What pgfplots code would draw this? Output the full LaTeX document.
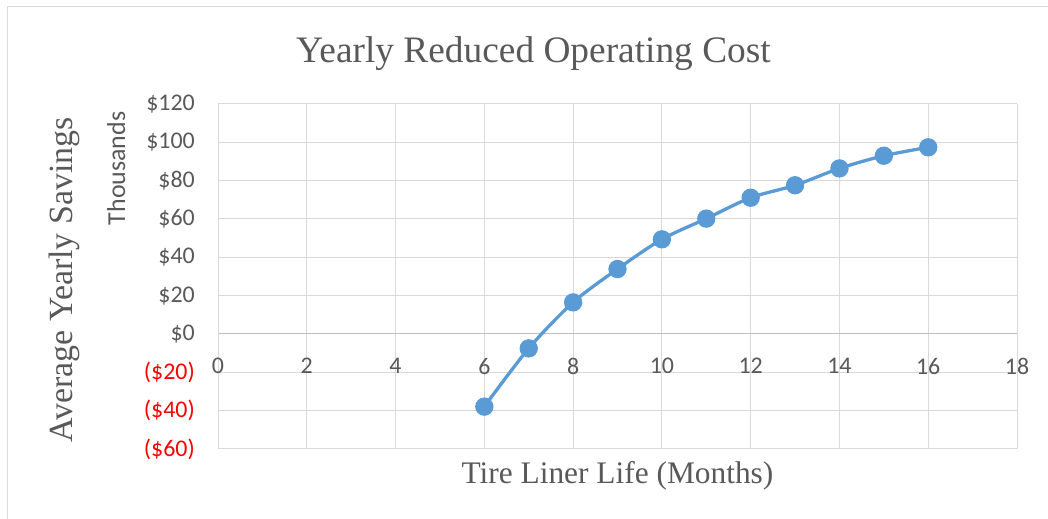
\documentclass[border=0pt]{standalone}
\usepackage{pgfplots}
\pgfplotsset{compat=1.18}
\usepackage{fontspec}
\setmainfont{Liberation Serif}
\newfontfamily\calibri{Carlito}
\definecolor{txt}{HTML}{595959}
\definecolor{grd}{HTML}{D9D9D9}
\definecolor{axl}{HTML}{BFBFBF}
\definecolor{ser}{HTML}{5B9BD5}
\begin{document}
\begin{tikzpicture}
\useasboundingbox (0,0) rectangle (1048bp,519bp);
\fill[white] (0,0) rectangle (1048bp,519bp);
\draw[grd, line width=1bp] (7bp,0) -- (7bp,512bp) -- (1048bp,512bp);
\begin{axis}[
  at={(218bp,70bp)}, anchor=south west,
  scale only axis, width=799bp, height=345bp,
  xmin=0, xmax=18, ymin=-60, ymax=120,
  xtick={0,2,...,18},
  ytick={-60,-40,-20,0,20,40,60,80,100,120},
  yticklabels={{\textcolor{red}{(\$60)}},{\textcolor{red}{(\$40)}},{\textcolor{red}{(\$20)}},\$0,\$20,\$40,\$60,\$80,\$100,\$120},
  axis x line*=middle, axis y line*=left,
  hide obscured x ticks=false,
  x axis line style={axl, line width=1bp, -},
  y axis line style={grd, line width=1bp, -},
  grid=major, grid style={grd, line width=1bp},
  major tick length=0pt,
  /pgf/number format/assume math mode=true,
  ticklabel style={font=\calibri\fontsize{24}{26}\selectfont, text=txt},
  xticklabel style={anchor=north, inner sep=0pt, yshift=-24bp},
  yticklabel style={anchor=east, inner sep=0pt, xshift=-23bp},
  clip=false,
]
\addplot[ser, line width=3.3bp, smooth, tension=0.5, mark=*, mark size=7.5bp,
  mark options={fill=ser, draw=none}] coordinates {
  (6,-37.9) (7,-7.5) (8,16.5) (9,33.9) (10,49.4) (11,60.2)
  (12,71.1) (13,77.6) (14,86.4) (15,93.0) (16,97.4)
};
\end{axis}
\node[anchor=base, text=txt, inner sep=0pt, font=\fontsize{37.5}{40}\selectfont] at (533.5bp,456bp) {Yearly Reduced Operating Cost};
\node[anchor=base, text=txt, inner sep=0pt, font=\fontsize{31.5}{34}\selectfont] at (617.5bp,35.7bp) {Tire Liner Life (Months)};
\node[anchor=base, rotate=90, text=txt, inner sep=0pt, font=\fontsize{34}{36}\selectfont] at (72bp,239bp) {Average Yearly Savings};
\node[anchor=base, rotate=90, text=txt, inner sep=0pt, font=\calibri\fontsize{26}{28}\selectfont] at (125bp,350.5bp) {Thousands};
\end{tikzpicture}
\end{document}
